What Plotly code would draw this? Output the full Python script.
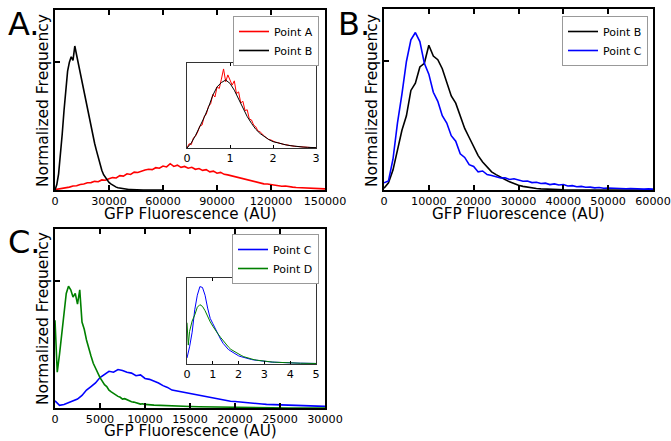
import numpy as np
import plotly.graph_objects as go

W, H = 671, 441

# ---------------- Panel A data ----------------
# Point B (black), bins of 1000 AU
a_black_y = [0.00, 0.03, 0.09, 0.19, 0.31, 0.44, 0.55, 0.66, 0.71, 0.74, 0.72, 0.80,
             0.75, 0.70, 0.66, 0.60, 0.54, 0.50, 0.45, 0.40, 0.35, 0.31, 0.26, 0.22,
             0.18, 0.14, 0.11, 0.085, 0.068, 0.052, 0.042, 0.034, 0.027, 0.021, 0.016,
             0.012, 0.010, 0.008, 0.006, 0.005, 0.004, 0.003, 0.003, 0.002, 0.002,
             0.001, 0.001, 0.001, 0.0, 0.0, 0.0, 0.0, 0.0, 0.0, 0.0, 0.0, 0.0, 0.0,
             0.0, 0.0, 0.0]
# Point A (red), bins of 2000 AU
a_red_y = [0.002, 0.005, 0.008, 0.012, 0.016, 0.022, 0.024, 0.031, 0.033, 0.040,
           0.041, 0.048, 0.046, 0.056, 0.054, 0.063, 0.069, 0.067, 0.080, 0.077,
           0.090, 0.086, 0.099, 0.097, 0.106, 0.111, 0.115, 0.113, 0.124, 0.121,
           0.133, 0.128, 0.146, 0.131, 0.138, 0.126, 0.131, 0.121, 0.126, 0.115,
           0.119, 0.109, 0.113, 0.101, 0.105, 0.093, 0.098, 0.087, 0.084, 0.079,
           0.071, 0.066, 0.060, 0.056, 0.050, 0.046, 0.041, 0.039, 0.034, 0.033,
           0.029, 0.027, 0.024, 0.021, 0.022, 0.017, 0.016, 0.014, 0.013, 0.011,
           0.012, 0.009, 0.010, 0.007, 0.008, 0.006]
a_x_ticks = [0, 30000, 60000, 90000, 120000, 150000]

# Inset A (normalised to mean)
ia_black_x = [round(0.1 * i, 2) for i in range(31)]
ia_black_y = [0.0, 0.06, 0.15, 0.25, 0.36, 0.48, 0.62, 0.72, 0.77, 0.80, 0.76, 0.68,
              0.58, 0.48, 0.37, 0.29, 0.22, 0.17, 0.13, 0.10, 0.075, 0.06, 0.048,
              0.037, 0.028, 0.02, 0.015, 0.011, 0.008, 0.005, 0.004]
ia_red_x = [round(0.05 * i, 2) for i in range(61)]
ia_red_y = [0.00, 0.05, 0.04, 0.12, 0.14, 0.19, 0.26, 0.27, 0.37, 0.40, 0.49, 0.52,
            0.63, 0.60, 0.72, 0.70, 0.81, 0.93, 0.78, 0.86, 0.80, 0.74, 0.79, 0.64,
            0.66, 0.53, 0.55, 0.44, 0.45, 0.34, 0.33, 0.27, 0.25, 0.20, 0.19, 0.16,
            0.14, 0.12, 0.10, 0.095, 0.08, 0.07, 0.065, 0.055, 0.05, 0.042, 0.038,
            0.032, 0.028, 0.024, 0.02, 0.018, 0.015, 0.013, 0.011, 0.009, 0.008,
            0.007, 0.005, 0.004, 0.003]
ia_ticks = [0, 1, 2, 3]

# ---------------- Panel B data (bins of 1000 AU) ----------------
b_black_y = [0.01, 0.04, 0.11, 0.22, 0.33, 0.41, 0.55, 0.59, 0.68, 0.70, 0.80, 0.74,
             0.72, 0.67, 0.60, 0.52, 0.48, 0.41, 0.34, 0.29, 0.24, 0.19, 0.155, 0.13,
             0.10, 0.085, 0.07, 0.058, 0.045, 0.035, 0.026, 0.02, 0.015, 0.011, 0.008,
             0.006, 0.004, 0.003, 0.002, 0.002, 0.001, 0.001, 0.0, 0.0, 0.0, 0.0, 0.0,
             0.0, 0.0, 0.0, 0.0, 0.0, 0.0, 0.0, 0.0, 0.0, 0.0, 0.0, 0.0, 0.0, 0.0]
b_blue_y = [0.04, 0.05, 0.17, 0.37, 0.53, 0.71, 0.83, 0.87, 0.82, 0.70, 0.64, 0.54,
            0.49, 0.41, 0.37, 0.30, 0.27, 0.20, 0.18, 0.14, 0.13, 0.10, 0.105, 0.085,
            0.08, 0.073, 0.066, 0.068, 0.058, 0.062, 0.055, 0.048, 0.050, 0.041, 0.043,
            0.036, 0.038, 0.030, 0.034, 0.028, 0.030, 0.022, 0.024, 0.018, 0.020, 0.015,
            0.016, 0.012, 0.014, 0.010, 0.011, 0.009, 0.010, 0.008, 0.007, 0.008, 0.006,
            0.006, 0.005, 0.006, 0.005]
b_x_ticks = [0, 10000, 20000, 30000, 40000, 50000, 60000]

# ---------------- Panel C data ----------------
c_green_x = [250 * i for i in range(41)] + [11000, 12000, 13000, 14000, 15000, 16000,
                                            17000, 18000, 19000, 20000, 22000, 24000,
                                            26000, 28000, 30000]
c_green_y = [0.49, 0.20, 0.30, 0.41, 0.50, 0.64, 0.68, 0.66, 0.62, 0.64, 0.58, 0.66,
             0.48, 0.44, 0.38, 0.33, 0.29, 0.25, 0.22, 0.19, 0.17, 0.15, 0.13, 0.12,
             0.10, 0.09, 0.08, 0.075, 0.065, 0.06, 0.05, 0.052, 0.045, 0.040, 0.035,
             0.033, 0.028, 0.027, 0.022, 0.024, 0.02,
             0.016, 0.013, 0.011, 0.009, 0.008, 0.007, 0.006, 0.005, 0.004, 0.003,
             0.002, 0.001, 0.0, 0.0, 0.0]
c_blue_y = [0.04, 0.015, 0.02, 0.03, 0.04, 0.05, 0.07, 0.10, 0.12, 0.14, 0.17, 0.19,
            0.205, 0.20, 0.215, 0.21, 0.20, 0.195, 0.18, 0.185, 0.165, 0.16, 0.15, 0.14,
            0.125, 0.115, 0.10, 0.095, 0.09, 0.085, 0.08, 0.075, 0.072, 0.065, 0.06,
            0.055, 0.05, 0.045, 0.042, 0.038, 0.036, 0.033, 0.03, 0.028, 0.026, 0.024,
            0.022, 0.02, 0.019, 0.018, 0.017, 0.016, 0.015, 0.014, 0.013, 0.012, 0.012,
            0.011, 0.01, 0.01, 0.009]
c_x_ticks = [0, 5000, 10000, 15000, 20000, 25000, 30000]

ic_blue_x = [round(0.1 * i, 2) for i in range(51)]
ic_blue_y = [0.07, 0.2, 0.37, 0.63, 0.80, 0.90, 0.89, 0.80, 0.65, 0.53, 0.47, 0.41,
             0.34, 0.29, 0.24, 0.20, 0.17, 0.15, 0.13, 0.11, 0.095, 0.085, 0.075,
             0.065, 0.058, 0.052, 0.047, 0.042, 0.037, 0.034, 0.030, 0.027, 0.025,
             0.022, 0.02, 0.019, 0.017, 0.016, 0.015, 0.013, 0.012, 0.011, 0.011,
             0.01, 0.009, 0.009, 0.008, 0.008, 0.007, 0.007, 0.006]
ic_green_x = [0, 0.05] + [round(0.1 * i, 2) for i in range(1, 51)]
ic_green_y = [0.48, 0.22, 0.38, 0.50, 0.57, 0.66, 0.69, 0.67, 0.62, 0.55, 0.49, 0.44,
              0.39, 0.35, 0.31, 0.27, 0.23, 0.20, 0.17, 0.15, 0.13, 0.11, 0.10, 0.085,
              0.075, 0.066, 0.058, 0.05, 0.045, 0.04, 0.036, 0.032, 0.029, 0.026,
              0.023, 0.021, 0.019, 0.017, 0.016, 0.015, 0.013, 0.012, 0.011, 0.011,
              0.01, 0.009, 0.009, 0.008, 0.007, 0.007, 0.006, 0.006]
ic_ticks = [0, 1, 2, 3, 4, 5]

RED, BLACK, BLUE, GREEN = "#ff0000", "#000000", "#0000ff", "#008000"
FONT = "DejaVu Sans"
TICK_SIZE = 11.2

fig = go.Figure()


def add(x, y, color, xa, ya, name=None, legend=None, width=1.6):
    fig.add_trace(go.Scatter(
        x=x, y=y, mode="lines", line=dict(color=color, width=width),
        xaxis=xa, yaxis=ya, name=name, showlegend=name is not None,
        legend=legend, hoverinfo="skip"))


# Panel A
add([2000 * i for i in range(len(a_red_y))], a_red_y, RED, "x", "y", "Point A", "legend")
add([1000 * i for i in range(len(a_black_y))], a_black_y, BLACK, "x", "y", "Point B", "legend")
add(ia_red_x, ia_red_y, RED, "x2", "y2", width=1.0)
add(ia_black_x, ia_black_y, BLACK, "x2", "y2", width=1.0)
# Panel B
add([1000 * i for i in range(len(b_black_y))], b_black_y, BLACK, "x3", "y3", "Point B", "legend2")
add([1000 * i for i in range(len(b_blue_y))], b_blue_y, BLUE, "x3", "y3", "Point C", "legend2")
# Panel C
add([500 * i for i in range(len(c_blue_y))], c_blue_y, BLUE, "x4", "y4", "Point C", "legend3")
add(c_green_x, c_green_y, GREEN, "x4", "y4", "Point D", "legend3")
add(ic_blue_x, ic_blue_y, BLUE, "x5", "y5", width=1.0)
add(ic_green_x, ic_green_y, GREEN, "x5", "y5", width=1.0)


def px_dom_x(a, b):
    return [a / W, b / W]


def px_dom_y(top, bottom):
    return [1 - bottom / H, 1 - top / H]


def main_x(dom, rng, ticks, anchor):
    return dict(domain=dom, range=rng, tickvals=ticks, tickformat="d", anchor=anchor,
                ticks="inside", ticklen=5, tickwidth=1.5, tickcolor="black",
                showline=True, linecolor="black", linewidth=2, mirror="ticks",
                showgrid=False, zeroline=False, automargin=False,
                ticklabeloverflow="allow",
                tickfont=dict(family=FONT, size=TICK_SIZE, color="black"))


def main_y(dom, anchor):
    return dict(domain=dom, range=[0, 1], tickvals=[0.71], showticklabels=False,
                anchor=anchor, ticks="inside", ticklen=5, tickwidth=1.5,
                tickcolor="black", showline=True, linecolor="black", linewidth=2,
                mirror=True, showgrid=False, zeroline=False, automargin=False)


def inset_x(dom, rng, ticks, anchor):
    return dict(domain=dom, range=rng, tickvals=ticks, anchor=anchor,
                ticks="inside", ticklen=3, tickwidth=1, tickcolor="black",
                showline=True, linecolor="#333333", linewidth=1, mirror="ticks",
                showgrid=False, zeroline=False, automargin=False,
                ticklabeloverflow="allow",
                tickfont=dict(family=FONT, size=TICK_SIZE, color="black"))


def inset_y(dom, anchor):
    return dict(domain=dom, range=[0, 1], showticklabels=False, ticks="",
                anchor=anchor, showline=True, linecolor="#333333", linewidth=1,
                mirror=True, showgrid=False, zeroline=False, automargin=False)


fig.update_layout(
    width=W, height=H, margin=dict(l=0, r=0, t=0, b=0, pad=0, autoexpand=False),
    paper_bgcolor="white", plot_bgcolor="rgba(0,0,0,0)",
    font=dict(family=FONT, color="black"),
    xaxis=main_x(px_dom_x(55, 325), [0, 150000], a_x_ticks, "y"),
    yaxis=main_y(px_dom_y(10, 190), "x"),
    xaxis2=inset_x(px_dom_x(187, 316), [0, 3], ia_ticks, "y2"),
    yaxis2=inset_y(px_dom_y(63, 148), "x2"),
    xaxis3=main_x(px_dom_x(384, 653), [0, 60000], b_x_ticks, "y3"),
    yaxis3=main_y(px_dom_y(9, 190), "x3"),
    xaxis4=main_x(px_dom_x(55, 325), [0, 30000], c_x_ticks, "y4"),
    yaxis4=main_y(px_dom_y(229, 408), "x4"),
    xaxis5=inset_x(px_dom_x(187, 316), [0, 5], ic_ticks, "y5"),
    yaxis5=inset_y(px_dom_y(278, 364), "x5"),
)

leg_common = dict(bgcolor="white", bordercolor="#999999", borderwidth=1,
                  font=dict(family=FONT, size=11, color="black"),
                  xanchor="right", yanchor="top", tracegroupgap=0)
fig.update_layout(
    legend=dict(x=319 / W, y=1 - 16 / H, **leg_common),
    legend2=dict(x=648 / W, y=1 - 16 / H, **leg_common),
    legend3=dict(x=319 / W, y=1 - 234 / H, **leg_common),
)

annots = []
for letter, xp, yp in [("A.", 6, 3), ("B.", 336, 3), ("C.", 6, 221)]:
    annots.append(dict(text=letter, x=xp / W, y=1 - yp / H, xref="paper", yref="paper",
                       xanchor="left", yanchor="top", showarrow=False,
                       font=dict(family=FONT, size=32, color="black")))
for xc, yb in [(190, 224), (518, 224), (190, 441)]:
    annots.append(dict(text="GFP Fluorescence (AU)", x=xc / W, y=1 - yb / H,
                       xref="paper", yref="paper", xanchor="center", yanchor="bottom",
                       borderpad=0, showarrow=False,
                       font=dict(family=FONT, size=15.2, color="black")))
for xc, yc in [(43, 101), (372, 101), (43, 319)]:
    annots.append(dict(text="Normalized Frequency", x=xc / W, y=1 - yc / H,
                       xref="paper", yref="paper", xanchor="center", yanchor="middle",
                       textangle=-90, showarrow=False,
                       font=dict(family=FONT, size=15.5, color="black")))
fig.update_layout(annotations=annots)

fig.write_html("out.html", config={"displayModeBar": False},
               post_script="document.body.style.margin='0px';"
                           "document.body.style.overflow='hidden';")
